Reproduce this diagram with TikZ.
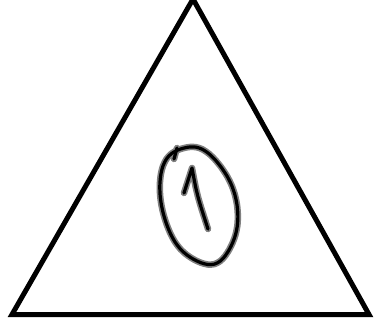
\documentclass[tikz,border=0pt]{standalone}
\usepackage{tikz}
\begin{document}
\begin{tikzpicture}[x=1pt, y=-1pt,
  halo/.style={gray, line width=6.5pt, line cap=round, line join=round},
  ink/.style={black, line width=3.2pt, line cap=round, line join=round}]
  \useasboundingbox (0,0) rectangle (374,326);
  % triangle
  \draw[line width=5pt, miter limit=10] (12,314.5) -- (193,-1) -- (369,314.5) -- cycle;
  % hand-drawn loop with the figure one
  \foreach \s in {halo, ink} {
    \draw[\s] plot[smooth cycle, domain=0:350, samples=36, variable=\t]
      ({198.5 + (60+1.2*sin(5*\t))*sin(\t)*0.259 + (37+0.8*cos(3*\t))*cos(\t)*0.966},
       {205 + (60+1.2*sin(5*\t))*sin(\t)*0.966 - (37+0.8*cos(3*\t))*cos(\t)*0.259});
    \draw[\s] (177,148) -- (174,159);
    \draw[\s] (184,193) -- (192,168) .. controls (197,195) .. (208,229);
  }
\end{tikzpicture}
\end{document}
